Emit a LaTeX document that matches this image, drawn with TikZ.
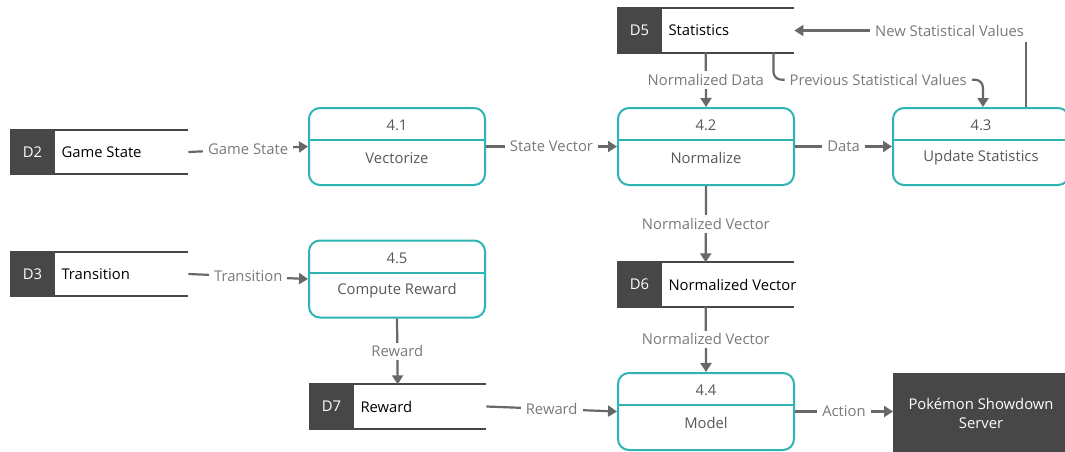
\documentclass[tikz,border=0pt]{standalone}
\usepackage{fontspec}
\setmainfont{Open Sans}
\usetikzlibrary{arrows.meta,calc}

\definecolor{procteal}{HTML}{2FB4B4}
\definecolor{storedark}{HTML}{474747}
\definecolor{flowgrey}{HTML}{686868}
\definecolor{labelgrey}{HTML}{7A7A7A}
\definecolor{proctext}{HTML}{595959}

\tikzset{
  every node/.style={font=\fontsize{14.8}{19}\selectfont},
  proc/.style={draw=procteal, line width=2pt, rounded corners=11pt,
    minimum width=176pt, minimum height=77pt, inner sep=0pt},
  procline/.style={draw=procteal, line width=2pt},
  proctxt/.style={text=proctext},
  storeframe/.style={minimum height=44pt, inner sep=0pt, anchor=west},
  storeline/.style={draw=storedark, line width=2pt},
  storeid/.style={text=white},
  storetxt/.style={text=black, anchor=west},
  flow/.style={draw=flowgrey, line width=2.2pt,
    -{Triangle[width=11pt,length=9pt]}},
  flowlabel/.style={fill=white, text=labelgrey, inner xsep=5pt, inner ysep=3pt},
  extbox/.style={fill=storedark, text=white, align=center, inner sep=0pt}
}

% data store: name, left x, centre y, width, id, label
\newcommand{\dstore}[6]{%
  \node[storeframe, minimum width=#4pt] (#1) at (#2,#3) {};
  \fill[storedark] (#1.north west) rectangle ++(45,44);
  \draw[storeline] (#1.north west) -- (#1.north east);
  \draw[storeline] (#1.south west) -- (#1.south east);
  \node[storeid] at ($(#1.west)+(22.5,0)$) {#5};
  \node[storetxt] at ($(#1.west)+(48,0)$) {#6};
}

% process: name, centre x, centre y, number, label
\newcommand{\process}[5]{%
  \node[proc] (#1) at (#2,#3) {};
  \draw[procline] ($(#1.north west)+(0,33)$) -- ($(#1.north east)+(0,33)$);
  \node[proctxt] at ($(#1.north)+(0,18.5)$) {#4};
  \node[proctxt] at ($(#1.north)+(0,51)$) {#5};
}

\begin{document}
\begin{tikzpicture}[x=1pt,y=-1pt]
\useasboundingbox (0,0) rectangle (1065,451);
\fill[white] (0,0) rectangle (1065,451);
\clip (0,0) rectangle (1065,451);

% data stores
\dstore{d2}{10}{152}{178}{D2}{Game State}
\dstore{d3}{10}{274}{178}{D3}{Transition}
\dstore{d5}{617}{30.5}{177}{D5}{Statistics}
\dstore{d6}{617}{284.5}{177}{D6}{Normalized Vector}
\dstore{d7}{309}{406.5}{177}{D7}{Reward}

% processes
\process{p41}{397}{146.5}{4.1}{Vectorize}
\process{p42}{706}{146.5}{4.2}{Normalize}
\process{p43}{981}{146.5}{4.3}{Update Statistics}
\process{p45}{397}{279}{4.5}{Compute Reward}
\process{p44}{706}{411.5}{4.4}{Model}

% external entity
\node[extbox, minimum width=176pt, minimum height=90pt, anchor=north west]
  (srv) at (893,373) {};
\node[extbox] at (981,413) {Pokémon Showdown\\Server};

% data flows
\draw[flow] (d2.east) -- node[flowlabel] {Game State} (p41.west);
\draw[flow] (p41.east) -- node[flowlabel] {State Vector} (p42.west);
\draw[flow] (p42.east) -- node[flowlabel] {Data} (p43.west);
\draw[flow] (d3.east) -- node[flowlabel] {Transition} (p45.west);
\draw[flow] (d7.east) -- node[flowlabel] {Reward} (p44.west);
\draw[flow] (p44.east) -- node[flowlabel] {Action} (srv.west |- p44.east);

\draw[flow] (d5.south) -- node[flowlabel] {Normalized Data} (p42.north);
\draw[flow] (p42.south) -- node[flowlabel] {Normalized Vector} (d6.north);
\draw[flow] (d6.south) -- node[flowlabel] {Normalized Vector} (p44.north);
\draw[flow] (p45.south) -- node[flowlabel] {Reward} (d7.north);

\draw[flow, rounded corners=8pt] ($(d5.south east)+(-21,0)$) -- ++(0,27)
  -| node[flowlabel, pos=0.25] {Previous Statistical Values} ($(p43.north)+(2,0)$);
\draw[flow] ($(p43.north)+(45,0)$) |-
  node[flowlabel, pos=0.665, inner ysep=6pt] {New Statistical Values} (d5.east);
\end{tikzpicture}
\end{document}
